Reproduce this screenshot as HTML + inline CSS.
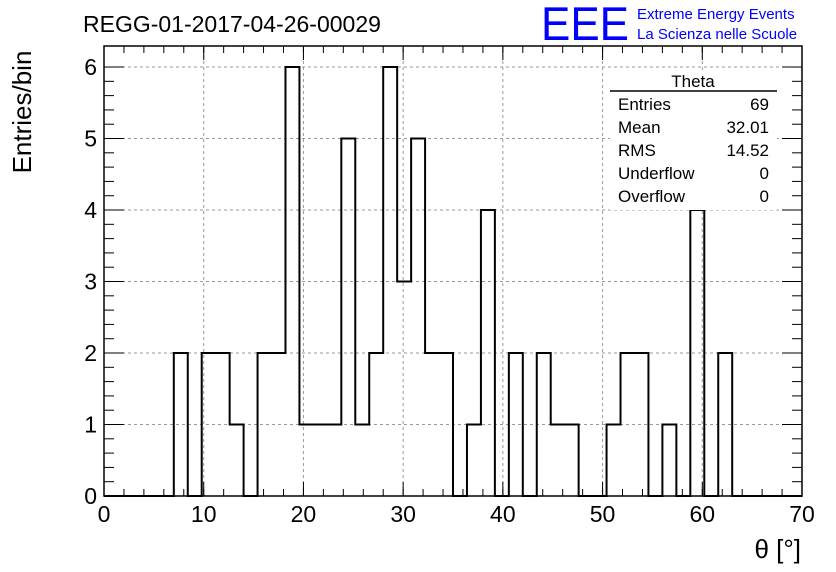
<!DOCTYPE html>
<html><head><meta charset="utf-8"><style>
body{margin:0;background:#fff;}
svg{display:block;font-family:"Liberation Sans",sans-serif;}
</style></head><body>
<svg id="chart" width="836" height="572">
<text x="83" y="32" font-size="23">REGG-01-2017-04-26-00029</text>
<text x="541" y="40" font-size="47" fill="#0000ff" textLength="88" lengthAdjust="spacingAndGlyphs">EEE</text>
<text x="637" y="19" font-size="15" fill="#0000ff">Extreme Energy Events</text>
<text x="637" y="39" font-size="15" fill="#0000ff">La Scienza nelle Scuole</text>
<g id="grid"></g>
<g id="axes"></g>
<path id="hist" fill="none" stroke="#000" stroke-width="2"/>
<rect x="104" y="46" width="698" height="450" fill="none" stroke="#000" stroke-width="1.5"/>
<g>
<rect x="610" y="70" width="167" height="140" fill="#fff"/>
<text x="693" y="87" font-size="17" text-anchor="middle">Theta</text>
<line x1="610" y1="91" x2="777" y2="91" stroke="#000" stroke-width="1.5"/>
<text x="618" y="110" font-size="17">Entries</text><text x="769" y="110" font-size="17" text-anchor="end">69</text>
<text x="618" y="133" font-size="17">Mean</text><text x="769" y="133" font-size="17" text-anchor="end">32.01</text>
<text x="618" y="156" font-size="17">RMS</text><text x="769" y="156" font-size="17" text-anchor="end">14.52</text>
<text x="618" y="179" font-size="17">Underflow</text><text x="769" y="179" font-size="17" text-anchor="end">0</text>
<text x="618" y="202" font-size="17">Overflow</text><text x="769" y="202" font-size="17" text-anchor="end">0</text>
</g>
<text transform="translate(31,112) rotate(-90)" font-size="26" text-anchor="middle">Entries/bin</text>
<text x="801" y="558" font-size="26" text-anchor="end">θ [°]</text>
</svg>
<script>
const counts=[0,0,0,0,0,2,0,2,2,1,0,2,2,6,1,1,1,5,1,2,6,3,5,2,2,0,1,4,0,2,0,2,1,1,0,0,1,2,2,0,1,0,4,0,2,0,0,0,0,0];
const xTicks=[0,10,20,30,40,50,60,70];
const yTicks=[0,1,2,3,4,5,6];
const binWidth=1.4;
const X0=104,X1=802,Y0=496,Y1=46,XMAX=70,YMAX=6.294;
const sx=v=>X0+(v/XMAX)*(X1-X0);
const sy=v=>Y0-(v/YMAX)*(Y0-Y1);
const NS="http://www.w3.org/2000/svg";
const grid=document.getElementById('grid'),axes=document.getElementById('axes');
function ln(p,x1,y1,x2,y2,st,dash){const l=document.createElementNS(NS,'line');l.setAttribute('x1',x1);l.setAttribute('y1',y1);l.setAttribute('x2',x2);l.setAttribute('y2',y2);l.setAttribute('stroke',st);l.setAttribute('stroke-width',1);if(dash)l.setAttribute('stroke-dasharray',dash);p.appendChild(l);return l;}
function tx(x,y,s,anchor){const t=document.createElementNS(NS,'text');t.setAttribute('x',x);t.setAttribute('y',y);t.setAttribute('font-size',23);t.setAttribute('text-anchor',anchor);t.textContent=s;axes.appendChild(t);return t;}
xTicks.forEach(v=>{const x=sx(v);
 if(v>0&&v<XMAX){const g=ln(grid,x,Y0,x,Y1,'#999','3,3');}
 ln(axes,x,Y0,x,Y0-14,'#000');ln(axes,x,Y1,x,Y1+14,'#000');
 const t=tx(x,522,String(v),'middle');
 
 
});
for(let v=0;v<=XMAX;v+=2){const x=sx(v);ln(axes,x,Y0,x,Y0-7,'#000');ln(axes,x,Y1,x,Y1+7,'#000');}
yTicks.forEach(v=>{const y=sy(v);
 if(v>0){const g=ln(grid,X0,y,X1,y,'#999','3,3');}
 ln(axes,X0,y,X0+20,y,'#000');ln(axes,X1,y,X1-20,y,'#000');
 const t=tx(97,y+8,String(v),'end');
 
 
});
for(let v=0;v<=6.2;v+=0.2){const y=sy(v);ln(axes,X0,y,X0+10,y,'#000');ln(axes,X1,y,X1-10,y,'#000');}
let d=`M${sx(0)},${sy(0)}`;
counts.forEach((c,i)=>{d+=` L${sx(i*binWidth)},${sy(c)} L${sx((i+1)*binWidth)},${sy(c)}`;});
document.getElementById('hist').setAttribute('d',d);
</script>
</body></html>
